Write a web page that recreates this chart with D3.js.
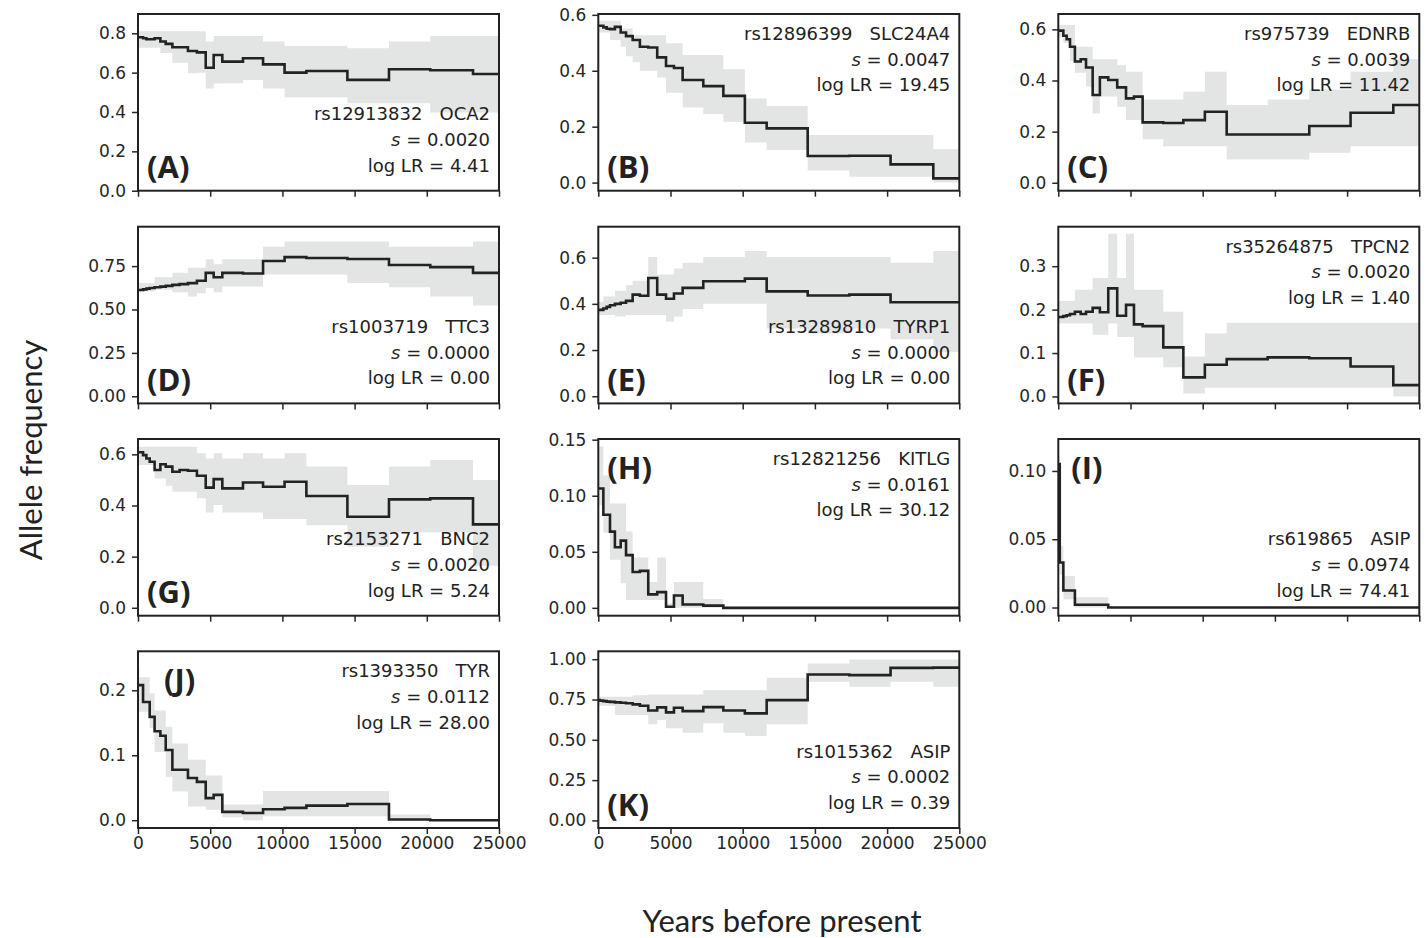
<!DOCTYPE html>
<html>
<head>
<meta charset="utf-8">
<script src="https://cdn.jsdelivr.net/npm/d3@7"></script>
<style>
  body { margin: 0; background: #fff; }
  svg { display: block; }
  .axis text { font-family: "DejaVu Sans", sans-serif; font-size: 17px; fill: #262626; }
  .axis line { stroke: #262626; stroke-width: 1.5; }
  .axis path { display: none; }
  .anno { font-family: "DejaVu Sans", sans-serif; font-size: 18px; fill: #222; white-space: pre; }
  .plabel { font-family: "Open Sans", sans-serif; font-weight: 700; font-size: 31px; fill: #222; }
  .title { font-family: Lato, sans-serif; font-size: 31px; fill: #222; }
</style>
</head>
<body>
<div id="chart"></div>
<script>
// epoch boundaries (years before present), shared by all panels
var epochs = [0, 100, 350, 580, 810, 1150, 1550, 1920, 2380, 2880, 3460, 4080, 4690,
              5240, 5840, 7270, 8660, 10150, 11660, 14500, 17380, 20240, 23200, 25000];

var panelLabels = ["(A)", "(B)", "(C)", "(D)", "(E)", "(F)", "(G)", "(H)", "(I)", "(J)", "(K)"];
var snps  = ["rs12913832", "rs12896399", "rs975739", "rs1003719", "rs13289810", "rs35264875",
             "rs2153271", "rs12821256", "rs619865", "rs1393350", "rs1015362"];
var genes = ["OCA2", "SLC24A4", "EDNRB", "TTC3", "TYRP1", "TPCN2", "BNC2", "KITLG", "ASIP", "TYR", "ASIP"];
var sValues = [0.0020, 0.0047, 0.0039, 0.0000, 0.0000, 0.0020, 0.0020, 0.0161, 0.0974, 0.0112, 0.0002];
var logLR   = [4.41, 19.45, 11.42, 0.00, 0.00, 1.40, 5.24, 30.12, 74.41, 28.00, 0.39];

var yDomains = [[0, 0.898], [-0.029, 0.603], [-0.031, 0.66], [-0.041, 0.977], [-0.031, 0.734],
                [-0.016, 0.391], [-0.031, 0.66], [-0.007, 0.1506], [-0.006, 0.1234],
                [-0.012, 0.26], [-0.047, 1.049]];
var yTicks = [[0, 0.2, 0.4, 0.6, 0.8], [0, 0.2, 0.4, 0.6], [0, 0.2, 0.4, 0.6], [0, 0.25, 0.5, 0.75],
              [0, 0.2, 0.4, 0.6], [0, 0.1, 0.2, 0.3], [0, 0.2, 0.4, 0.6], [0, 0.05, 0.1, 0.15],
              [0, 0.05, 0.1], [0, 0.1, 0.2], [0, 0.25, 0.5, 0.75, 1]];
var yDecimals = [1, 1, 1, 2, 1, 1, 1, 2, 2, 1, 2];
var xTicks = [0, 5000, 10000, 15000, 20000, 25000];

var annoAtTop  = [false, true, true, false, false, true, false, true, false, true, false];
var labelAtTop = [false, false, false, false, false, false, false, true, true, true, false];

// allele frequency per epoch
var freqs = [
  [0.78, 0.78, 0.775, 0.77, 0.77, 0.775, 0.758, 0.746, 0.729, 0.729, 0.71, 0.703, 0.625, 0.69, 0.656, 0.673, 0.642, 0.60, 0.608, 0.563, 0.617, 0.612, 0.593],
  [0.561, 0.561, 0.555, 0.55, 0.549, 0.557, 0.537, 0.524, 0.51, 0.486, 0.483, 0.448, 0.417, 0.41, 0.367, 0.345, 0.31, 0.214, 0.194, 0.095, 0.096, 0.065, 0.015],
  [0.595, 0.595, 0.575, 0.561, 0.532, 0.474, 0.483, 0.451, 0.343, 0.412, 0.402, 0.373, 0.33, 0.337, 0.236, 0.234, 0.245, 0.278, 0.189, 0.189, 0.222, 0.274, 0.304],
  [0.612, 0.612, 0.616, 0.62, 0.624, 0.628, 0.632, 0.636, 0.642, 0.646, 0.652, 0.666, 0.711, 0.686, 0.711, 0.707, 0.779, 0.802, 0.797, 0.791, 0.756, 0.744, 0.711],
  [0.374, 0.374, 0.38, 0.387, 0.394, 0.40, 0.405, 0.413, 0.44, 0.435, 0.512, 0.44, 0.422, 0.445, 0.469, 0.498, 0.498, 0.509, 0.454, 0.436, 0.44, 0.407, 0.407],
  [0.183, 0.183, 0.185, 0.187, 0.19, 0.195, 0.19, 0.195, 0.204, 0.194, 0.249, 0.186, 0.211, 0.166, 0.162, 0.113, 0.044, 0.073, 0.086, 0.09, 0.088, 0.069, 0.026],
  [0.608, 0.608, 0.597, 0.584, 0.571, 0.539, 0.561, 0.552, 0.532, 0.539, 0.536, 0.516, 0.47, 0.503, 0.467, 0.49, 0.473, 0.493, 0.437, 0.356, 0.424, 0.428, 0.326],
  [0.1065, 0.1065, 0.083, 0.083, 0.068, 0.054, 0.06, 0.047, 0.032, 0.033, 0.012, 0.014, 0.001, 0.011, 0.003, 0.002, 0, 0, 0, 0, 0, 0, 0],
  [0.105, 0.033, 0.0125, 0.0125, 0.0125, 0.002, 0.002, 0.002, 0.002, 0.002, 0, 0, 0, 0, 0, 0, 0, 0, 0, 0, 0, 0, 0],
  [0.208, 0.208, 0.182, 0.182, 0.159, 0.137, 0.13, 0.108, 0.0776, 0.0776, 0.065, 0.059, 0.034, 0.039, 0.0128, 0.011, 0.0168, 0.019, 0.0224, 0.025, 0.001, 0, 0],
  [0.746, 0.743, 0.74, 0.737, 0.735, 0.732, 0.73, 0.727, 0.72, 0.711, 0.682, 0.701, 0.67, 0.699, 0.678, 0.703, 0.682, 0.664, 0.746, 0.905, 0.901, 0.946, 0.948]
];
// lower edge of the interval
var lowers = [
  [0.727, 0.727, 0.727, 0.727, 0.727, 0.727, 0.70, 0.70, 0.65, 0.65, 0.597, 0.60, 0.52, 0.545, 0.546, 0.563, 0.52, 0.475, 0.475, 0.444, 0.444, 0.397, 0.397],
  [0.537, 0.537, 0.537, 0.537, 0.51, 0.51, 0.486, 0.452, 0.43, 0.40, 0.40, 0.376, 0.321, 0.321, 0.269, 0.245, 0.218, 0.143, 0.117, 0.043, 0.021, 0.021, 0.0],
  [0.571, 0.571, 0.548, 0.548, 0.477, 0.43, 0.43, 0.376, 0.271, 0.337, 0.337, 0.297, 0.245, 0.245, 0.17, 0.143, 0.143, 0.143, 0.091, 0.091, 0.117, 0.143, 0.143],
  [0.604, 0.604, 0.604, 0.604, 0.604, 0.614, 0.614, 0.614, 0.6, 0.6, 0.575, 0.594, 0.624, 0.6, 0.633, 0.633, 0.701, 0.701, 0.701, 0.653, 0.628, 0.575, 0.523],
  [0.352, 0.352, 0.352, 0.352, 0.352, 0.345, 0.345, 0.352, 0.352, 0.352, 0.352, 0.352, 0.323, 0.345, 0.378, 0.40, 0.40, 0.40, 0.293, 0.272, 0.293, 0.247, 0.191],
  [0.168, 0.168, 0.168, 0.168, 0.168, 0.168, 0.168, 0.168, 0.142, 0.142, 0.168, 0.137, 0.137, 0.09, 0.09, 0.067, 0.007, 0.02, 0.02, 0.02, 0.02, 0.02, 0.0],
  [0.558, 0.558, 0.558, 0.558, 0.558, 0.506, 0.506, 0.477, 0.454, 0.454, 0.454, 0.428, 0.373, 0.402, 0.373, 0.373, 0.347, 0.347, 0.323, 0.239, 0.295, 0.295, 0.164],
  [0.092, 0.092, 0.067, 0.067, 0.043, 0.043, 0.022, 0.007, 0.007, 0.007, 0.007, 0.007, 0, 0, 0, 0, 0, 0, 0, 0, 0, 0, 0],
  [0.1, 0.024, 0.006, 0.006, 0.006, 0, 0, 0, 0, 0, 0, 0, 0, 0, 0, 0, 0, 0, 0, 0, 0, 0, 0],
  [0.167, 0.167, 0.167, 0.167, 0.142, 0.105, 0.105, 0.067, 0.044, 0.044, 0.021, 0.021, 0.016, 0.016, 0.0046, 0, 0.006, 0.006, 0.006, 0.006, 0, 0, 0],
  [0.711, 0.711, 0.711, 0.711, 0.711, 0.654, 0.654, 0.654, 0.654, 0.654, 0.596, 0.623, 0.571, 0.571, 0.544, 0.602, 0.544, 0.524, 0.596, 0.86, 0.829, 0.86, 0.829]
];
// upper edge of the interval
var uppers = [
  [0.81, 0.81, 0.81, 0.81, 0.81, 0.81, 0.81, 0.81, 0.81, 0.81, 0.81, 0.81, 0.758, 0.786, 0.786, 0.786, 0.758, 0.736, 0.736, 0.724, 0.758, 0.786, 0.786],
  [0.579, 0.579, 0.579, 0.579, 0.579, 0.579, 0.551, 0.551, 0.527, 0.527, 0.527, 0.527, 0.498, 0.498, 0.456, 0.456, 0.405, 0.301, 0.274, 0.17, 0.17, 0.17, 0.119],
  [0.617, 0.617, 0.617, 0.617, 0.617, 0.532, 0.532, 0.532, 0.483, 0.483, 0.483, 0.46, 0.434, 0.434, 0.326, 0.326, 0.356, 0.434, 0.304, 0.326, 0.365, 0.434, 0.483],
  [0.653, 0.653, 0.653, 0.653, 0.653, 0.686, 0.686, 0.686, 0.711, 0.711, 0.74, 0.74, 0.789, 0.76, 0.789, 0.789, 0.861, 0.892, 0.892, 0.892, 0.861, 0.861, 0.892],
  [0.407, 0.407, 0.432, 0.432, 0.432, 0.457, 0.457, 0.48, 0.50, 0.50, 0.603, 0.527, 0.527, 0.553, 0.578, 0.603, 0.603, 0.629, 0.603, 0.603, 0.603, 0.578, 0.629],
  [0.22, 0.22, 0.22, 0.22, 0.22, 0.246, 0.246, 0.246, 0.273, 0.273, 0.375, 0.273, 0.375, 0.246, 0.246, 0.195, 0.092, 0.145, 0.17, 0.17, 0.17, 0.17, 0.17],
  [0.63, 0.63, 0.63, 0.63, 0.63, 0.63, 0.63, 0.63, 0.63, 0.63, 0.63, 0.604, 0.584, 0.604, 0.584, 0.604, 0.584, 0.604, 0.552, 0.48, 0.552, 0.578, 0.50],
  [0.144, 0.144, 0.118, 0.118, 0.093, 0.093, 0.093, 0.068, 0.045, 0.045, 0.023, 0.045, 0.004, 0.023, 0.023, 0.008, 0.001, 0.001, 0.001, 0.001, 0.001, 0.001, 0.001],
  [0.11, 0.045, 0.023, 0.023, 0.023, 0.0076, 0.0076, 0.0076, 0.0076, 0.0076, 0.0005, 0.0005, 0.0005, 0.0005, 0.0005, 0.0005, 0.0005, 0.0005, 0.0005, 0.0005, 0.0005, 0.0005, 0.0005],
  [0.236, 0.22, 0.22, 0.22, 0.195, 0.169, 0.169, 0.144, 0.118, 0.118, 0.093, 0.093, 0.069, 0.069, 0.024, 0.024, 0.045, 0.045, 0.045, 0.045, 0.0087, 0.0005, 0.0005],
  [0.767, 0.767, 0.767, 0.767, 0.767, 0.767, 0.767, 0.767, 0.777, 0.777, 0.781, 0.781, 0.781, 0.781, 0.781, 0.808, 0.808, 0.808, 0.885, 0.973, 0.998, 0.998, 0.998]
];

var W = 1426, H = 938;
var colX = [138, 598.3, 1058.3],
    rowY = [14, 226.7, 439, 651.3],
    plotW = 361,
    plotH = 176.7,
    lineGap = 25.7;

var svg = d3.select("#chart").append("svg")
    .attr("width", W)
    .attr("height", H);

var x = d3.scaleLinear().domain([0, 25000]).range([0, plotW]);

var fmtS = d3.format(".4f"), fmtLR = d3.format(".2f");

panelLabels.forEach(function(lab, i) {
  var col = i % 3, row = Math.floor(i / 3);
  var y = d3.scaleLinear().domain(yDomains[i]).range([plotH, 0]);

  var pts = epochs.map(function(t, j) {
    var k = Math.min(j, freqs[i].length - 1);
    return { t: t, f: freqs[i][k], lo: lowers[i][k], hi: uppers[i][k] };
  });

  var g = svg.append("g")
      .attr("transform", "translate(" + colX[col] + "," + rowY[row] + ")");

  g.append("clipPath").attr("id", "clip" + i)
    .append("rect").attr("width", plotW).attr("height", plotH);

  var area = d3.area()
      .curve(d3.curveStepAfter)
      .x(function(d) { return x(d.t); })
      .y0(function(d) { return y(d.lo); })
      .y1(function(d) { return y(d.hi); });

  var line = d3.line()
      .curve(d3.curveStepAfter)
      .x(function(d) { return x(d.t); })
      .y(function(d) { return y(d.f); });

  var inner = g.append("g").attr("clip-path", "url(#clip" + i + ")");
  inner.append("path")
      .datum(pts)
      .attr("d", area)
      .attr("fill", "#e3e4e4")
      .attr("stroke", "none");
  inner.append("path")
      .datum(pts)
      .attr("d", line)
      .attr("fill", "none")
      .attr("stroke", "#222")
      .attr("stroke-width", 2.6);

  g.append("g")
      .attr("class", "axis")
      .call(d3.axisLeft(y).tickValues(yTicks[i])
            .tickFormat(d3.format("." + yDecimals[i] + "f"))
            .tickSize(6).tickPadding(6));

  g.append("g")
      .attr("class", "axis")
      .attr("transform", "translate(0," + plotH + ")")
      .call(d3.axisBottom(x).tickValues(xTicks)
            .tickFormat(row === 3 ? d3.format("d") : "")
            .tickSize(6).tickPadding(3));

  g.append("rect")
      .attr("width", plotW)
      .attr("height", plotH)
      .attr("fill", "none")
      .attr("stroke", "#222")
      .attr("stroke-width", 2);

  // panel letter
  var lx = i === 9 ? 26 : (i === 8 ? 13 : 9);
  g.append("text")
      .attr("class", "plabel")
      .attr("x", lx)
      .attr("y", labelAtTop[i] ? 40 : plotH - 12.4)
      .text(lab);

  // annotation block
  var y0 = annoAtTop[i] ? 26 : plotH - 19 - 2 * lineGap;
  var t = g.append("text")
      .attr("class", "anno")
      .attr("text-anchor", "end");
  t.append("tspan").attr("x", plotW - 9).attr("y", y0)
      .text(snps[i] + "   " + genes[i]);
  var l2 = t.append("tspan").attr("x", plotW - 9).attr("y", y0 + lineGap);
  l2.append("tspan").attr("font-style", "italic").text("s");
  l2.append("tspan").text(" = " + fmtS(sValues[i]));
  t.append("tspan").attr("x", plotW - 9).attr("y", y0 + 2 * lineGap)
      .text("log LR = " + fmtLR(logLR[i]));
});

svg.append("text")
    .attr("class", "title")
    .attr("text-anchor", "middle")
    .attr("transform", "translate(42,450) rotate(-90)")
    .text("Allele frequency");

svg.append("text")
    .attr("class", "title")
    .attr("text-anchor", "middle")
    .attr("x", 782)
    .attr("y", 932)
    .text("Years before present");
</script>
</body>
</html>
